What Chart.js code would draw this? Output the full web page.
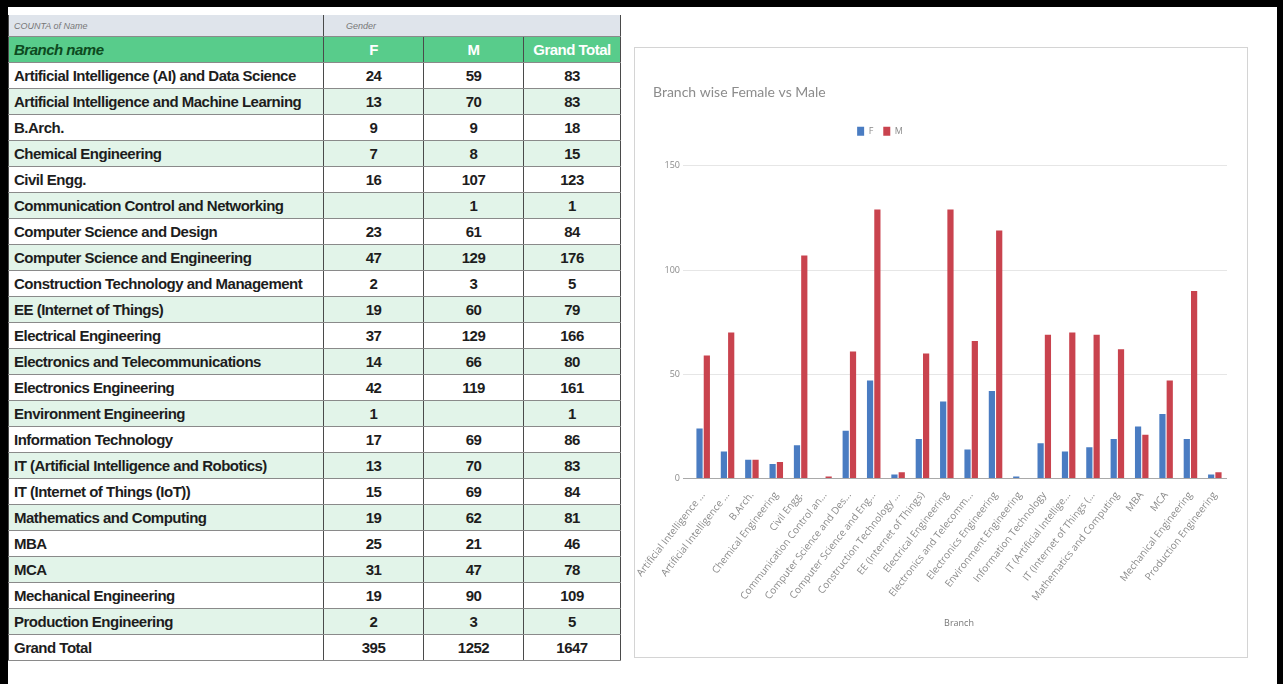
<!DOCTYPE html>
<html>
<head>
<meta charset="utf-8">
<script src="https://cdn.jsdelivr.net/npm/chart.js@4.4.0/dist/chart.umd.min.js"></script>
<style>
  body { margin: 0; width: 1283px; height: 684px; background: #fff; position: relative; overflow: hidden; }
  .frame { position: absolute; background: #000; }
  #pivot { position: absolute; left: 8px; top: 15px; border-collapse: collapse; table-layout: fixed;
           font-family: "Liberation Sans", sans-serif; font-weight: bold; font-size: 15px; letter-spacing: -0.5px; color: #1d1d1d; }
  #pivot td { padding: 0 0 0 5px; height: 25px; border-top: 1px solid #8a8a8a; border-bottom: 1px solid #8a8a8a;
              border-left: 1px solid #4a4a4a; border-right: 1px solid #4a4a4a; white-space: nowrap; overflow: hidden; }
  #pivot td.num { text-align: center; padding: 0; }
  #pivot tr.alt td { background: #e2f4e9; }
  #pivot tr.head1 td { background: #dfe4eb; height: 21px; font-family: "Liberation Sans", sans-serif; font-weight: normal;
                       font-style: italic; font-size: 9px; letter-spacing: 0; color: #777; border-top: none; }
  #pivot tr.head2 td { background: #58cc8b; height: 25px; color: #fff; }
  #pivot tr.head2 td.first { color: #0d4a20; font-style: italic; }
  #chartBox { position: absolute; left: 634px; top: 47px; width: 612px; height: 609px; border: 1px solid #d4d4d4; }
</style>
</head>
<body>
<div class="frame" style="left:0;top:0;width:1283px;height:7px"></div>
<div class="frame" style="left:0;top:0;width:8px;height:684px"></div>
<div class="frame" style="left:1277px;top:0;width:6px;height:684px"></div>

<table id="pivot">
  <colgroup><col style="width:315px"><col style="width:100px"><col style="width:100px"><col style="width:97px"></colgroup>
  <tbody id="pivotBody"></tbody>
</table>

<div id="chartBox"><canvas id="myChart1" width="612" height="609"></canvas></div>

<script>
const branches = [
  "Artificial Intelligence (AI) and Data Science",
  "Artificial Intelligence and Machine Learning",
  "B.Arch.",
  "Chemical Engineering",
  "Civil Engg.",
  "Communication Control and Networking",
  "Computer Science and Design",
  "Computer Science and Engineering",
  "Construction Technology and Management",
  "EE (Internet of Things)",
  "Electrical Engineering",
  "Electronics and Telecommunications",
  "Electronics Engineering",
  "Environment Engineering",
  "Information Technology",
  "IT (Artificial Intelligence and Robotics)",
  "IT (Internet of Things (IoT))",
  "Mathematics and Computing",
  "MBA",
  "MCA",
  "Mechanical Engineering",
  "Production Engineering"
];
const femaleCounts = [24, 13, 9, 7, 16, null, 23, 47, 2, 19, 37, 14, 42, 1, 17, 13, 15, 19, 25, 31, 19, 2];
const maleCounts = [59, 70, 9, 8, 107, 1, 61, 129, 3, 60, 129, 66, 119, null, 69, 70, 69, 62, 21, 47, 90, 3];
const grandTotals = [83, 83, 18, 15, 123, 1, 84, 176, 5, 79, 166, 80, 161, 1, 86, 83, 84, 81, 46, 78, 109, 5];
const totalRow = [395, 1252, 1647];
const genders = ["F", "M"];

// pivot table
const body = document.getElementById("pivotBody");
let html = '<tr class="head1"><td>COUNTA of Name</td><td style="padding-left:22px;border-right:none">Gender</td>' +
           '<td style="border-left:none;border-right:none"></td><td style="border-left:none"></td></tr>';
html += '<tr class="head2"><td class="first">Branch name</td><td class="num">F</td><td class="num">M</td><td class="num">Grand Total</td></tr>';
branches.forEach(function (name, i) {
  const f = femaleCounts[i] === null ? "" : femaleCounts[i];
  const m = maleCounts[i] === null ? "" : maleCounts[i];
  html += '<tr class="' + (i % 2 ? "alt" : "") + '"><td>' + name + '</td><td class="num">' + f +
          '</td><td class="num">' + m + '</td><td class="num">' + grandTotals[i] + '</td></tr>';
});
html += '<tr><td>Grand Total</td><td class="num">' + totalRow[0] + '</td><td class="num">' + totalRow[1] +
        '</td><td class="num">' + totalRow[2] + '</td></tr>';
body.innerHTML = html;

// extra room under the legend, and legend sits a bit left of centre
const legendGap = {
  id: "legendGap",
  beforeInit(chart) {
    const fit = chart.legend.fit;
    chart.legend.fit = function () {
      fit.bind(chart.legend)();
      this.height += 20;
    };
  },
  afterLayout(chart) {
    chart.legend.right -= 120;
  },
};

// chart
const ctx = document.getElementById("myChart1").getContext("2d");
const greyText = "#8a8a8a";
const chart = new Chart(ctx, {
  type: "bar",
  data: {
    labels: branches,
    datasets: [
      { label: genders[0], data: femaleCounts, backgroundColor: "#4a7cc2" },
      { label: genders[1], data: maleCounts, backgroundColor: "#c9434e" },
    ],
  },
  plugins: [legendGap],
  options: {
    responsive: false,
    animation: false,
    layout: { padding: { left: 18, right: 20, top: 36, bottom: 24 } },
    datasets: { bar: { categoryPercentage: 0.6, barPercentage: 0.85 } },
    plugins: {
      title: {
        display: true,
        text: "Branch wise Female vs Male",
        align: "start",
        color: "#8c8c8c",
        font: { family: "Lato", size: 14, weight: "normal" },
        padding: { top: 0, bottom: 16 },
      },
      legend: {
        labels: { boxWidth: 7, boxHeight: 9, color: greyText, font: { family: "Open Sans", size: 9 }, padding: 10 },
      },
      tooltip: { enabled: false },
    },
    scales: {
      x: {
        grid: { display: false },
        border: { display: false },
        title: { display: true, text: "Branch", color: "#777", font: { family: "Open Sans", size: 9 }, padding: { top: 12 } },
        ticks: {
          autoSkip: false,
          minRotation: 52,
          maxRotation: 52,
          color: greyText,
          font: { family: "Open Sans", size: 10 },
          callback: function (v) {
            const l = this.getLabelForValue(v);
            return l.length > 25 ? l.slice(0, 24) + "..." : l;
          },
        },
      },
      y: {
        min: 0,
        max: 150,
        ticks: { stepSize: 50, color: greyText, font: { family: "Open Sans", size: 9 } },
        grid: { color: function (c) { return c.tick && c.tick.value === 0 ? "#a9a9a9" : "#e6e6e6"; } },
        border: { display: false },
      },
    },
  },
});
</script>
</body>
</html>
